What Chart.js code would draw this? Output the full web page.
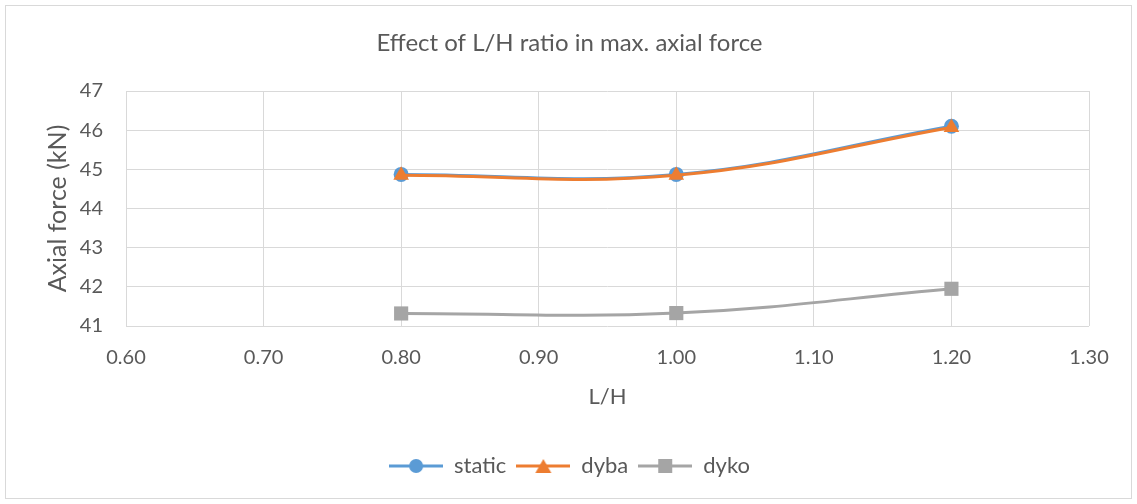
<!DOCTYPE html>
<html>
<head>
<meta charset="utf-8">
<script src="https://cdn.jsdelivr.net/npm/chart.js@4.4.0/dist/chart.umd.min.js"></script>
<style>
  html, body { margin: 0; padding: 0; background: #fff; }
  #wrap { position: relative; width: 1137px; height: 504px; }
</style>
</head>
<body>
<div id="wrap"><canvas id="chart"></canvas></div>
<script>
// chart data
const lhRatio = [0.80, 1.00, 1.20];
const staticForce = [44.87, 44.87, 46.10];
const dybaForce = [44.85, 44.85, 46.07];
const dykoForce = [41.32, 41.33, 41.95];
const xTicks = [0.60, 0.70, 0.80, 0.90, 1.00, 1.10, 1.20, 1.30];
const yTicks = [41, 42, 43, 44, 45, 46, 47];

const BLUE = '#5b9bd5', ORANGE = '#ed7d31', GREY = '#a5a5a5';
const TEXT = '#595959', GRID = '#d9d9d9';
const FONT = 'Lato, "Open Sans", sans-serif';

// legend icon: line with marker in the middle
function legendIcon(color, shape) {
    const c = document.createElement('canvas');
    c.width = 54; c.height = 18;
    const g = c.getContext('2d');
    g.strokeStyle = color; g.lineWidth = 3;
    g.beginPath(); g.moveTo(0, 9); g.lineTo(54, 9); g.stroke();
    g.fillStyle = color;
    g.beginPath();
    if (shape === 'circle') g.arc(27, 9, 7, 0, Math.PI * 2);
    else if (shape === 'triangle') { g.moveTo(27, 2); g.lineTo(35, 16); g.lineTo(19, 16); g.closePath(); }
    else g.rect(20, 2, 14, 14);
    g.fill();
    return c;
}

const toPts = ys => lhRatio.map((x, i) => ({ x: x, y: ys[i] }));

const frame = {
    id: 'frame',
    beforeDraw(chart) {
        const ctx = chart.ctx;
        ctx.save();
        ctx.strokeStyle = GRID;
        ctx.lineWidth = 1;
        ctx.strokeRect(5.5, 5.5, 1126, 493);
        ctx.restore();
    }
};

const mkSet = (label, data, color, style, radius, order) => ({
    label: label,
    data: toPts(data),
    borderColor: color,
    backgroundColor: color,
    borderWidth: 3,
    pointStyle: style,
    pointRadius: radius,
    pointBorderWidth: 0,
    tension: 0.4,
    order: order,
    legendIcon: legendIcon(color, style)
});

const datasets = [
    mkSet('static', staticForce, BLUE, 'circle', 7.5, 2),
    mkSet('dyba', dybaForce, ORANGE, 'triangle', 9, 1),
    mkSet('dyko', dykoForce, GREY, 'rect', 10, 3)
];

new Chart(document.getElementById('chart'), {
    type: 'line',
    data: { datasets: datasets },
    plugins: [frame],
    options: {
        responsive: true,
        maintainAspectRatio: false,
        animation: false,
        layout: { padding: { left: 50, right: 48, top: 0, bottom: 17 } },
        scales: {
            x: {
                type: 'linear',
                min: 0.6, max: 1.3,
                afterBuildTicks: s => { s.ticks = xTicks.map(v => ({ value: v })); },
                afterFit: s => { s.height = 119; },
                grid: { color: GRID, lineWidth: 1, drawTicks: false },
                border: { display: false },
                ticks: { color: TEXT, padding: 20, font: { family: FONT, size: 20 }, callback: v => v.toFixed(2) },
                title: { display: true, text: 'L/H', color: TEXT, font: { family: FONT, size: 22 }, padding: { top: 0, bottom: 35 } }
            },
            y: {
                min: 41, max: 47,
                afterBuildTicks: s => { s.ticks = yTicks.map(v => ({ value: v })); },
                afterFit: s => { s.width = 126 - 50; },
                grid: { color: GRID, lineWidth: 1, drawTicks: false },
                border: { display: false },
                ticks: { color: TEXT, padding: 23, font: { family: FONT, size: 20 } },
                title: { display: true, text: 'Axial force (kN)', color: TEXT, font: { family: FONT, size: 25 }, padding: { top: -7, bottom: 0 } }
            }
        },
        plugins: {
            title: {
                display: true,
                text: 'Effect of L/H ratio in max. axial force',
                color: TEXT,
                font: { family: FONT, size: 24, weight: 'normal' },
                padding: { top: 28.6, bottom: 33.6 }
            },
            legend: {
                position: 'bottom',
                labels: {
                    usePointStyle: true,
                    pointStyleWidth: 54,
                    padding: 10,
                    color: TEXT,
                    font: { family: FONT, size: 22 },
                    generateLabels: chart => chart.data.datasets.map((ds, i) => ({
                        text: ds.label,
                        fontColor: TEXT,
                        pointStyle: ds.legendIcon,
                        datasetIndex: i,
                        lineWidth: 0,
                        hidden: false
                    }))
                }
            },
            tooltip: { enabled: false }
        }
    }
});
</script>
</body>
</html>
